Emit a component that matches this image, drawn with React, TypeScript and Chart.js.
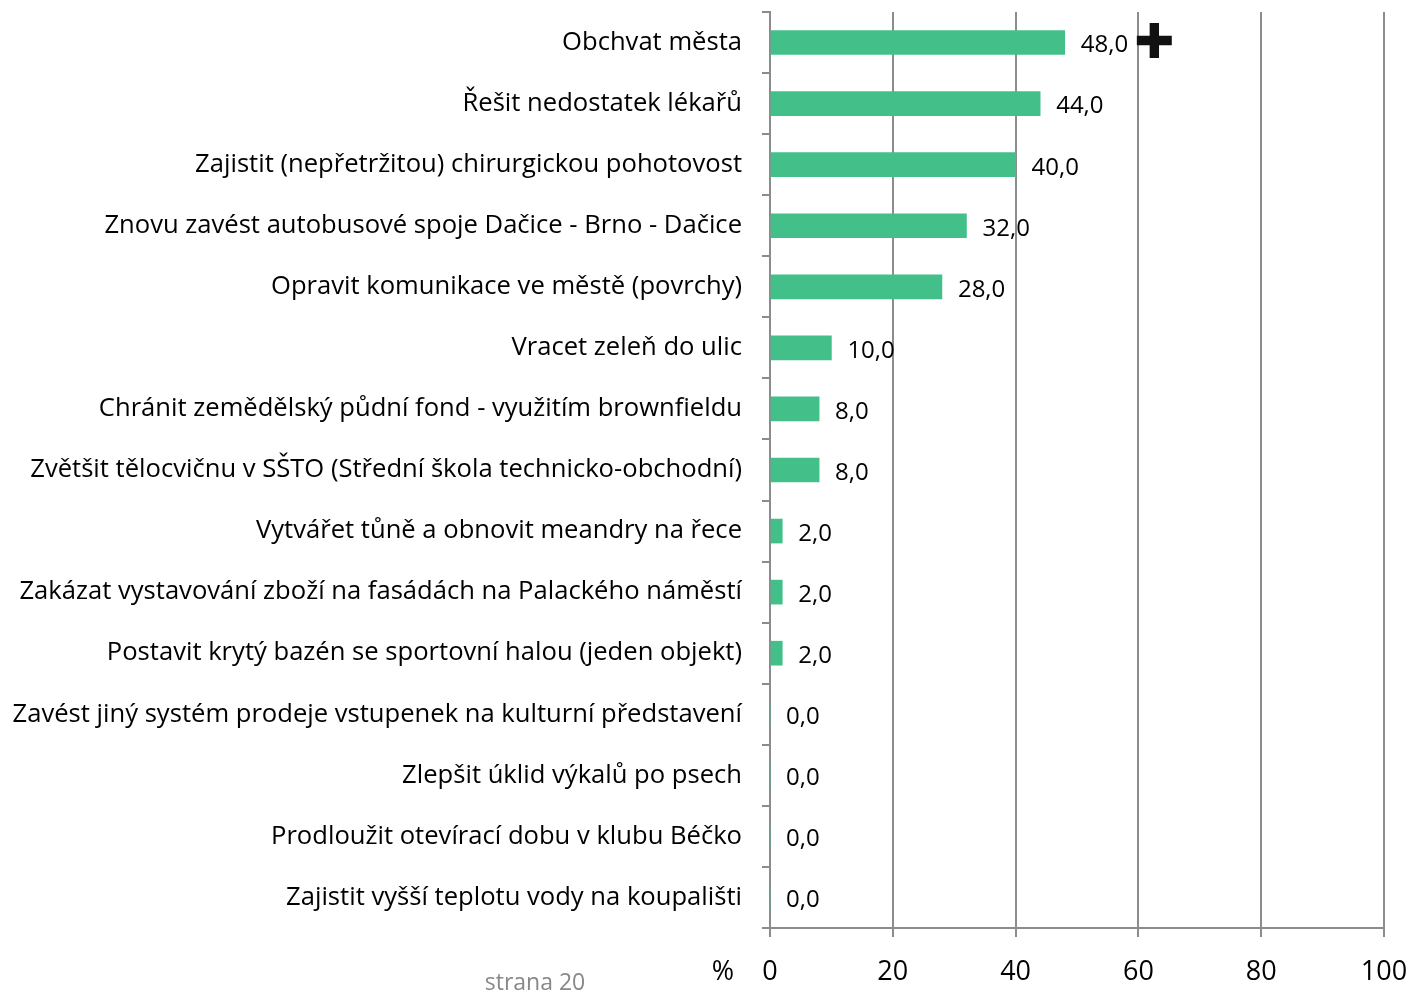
import React, { useEffect, useRef } from "react";
import { Chart, registerables } from "chart.js";

Chart.register(...registerables);

const categories: string[] = [
  "Obchvat města",
  "Řešit nedostatek lékařů",
  "Zajistit (nepřetržitou) chirurgickou pohotovost",
  "Znovu zavést autobusové spoje Dačice - Brno - Dačice",
  "Opravit komunikace ve městě (povrchy)",
  "Vracet zeleň do ulic",
  "Chránit zemědělský půdní fond - využitím brownfieldu",
  "Zvětšit tělocvičnu v SŠTO (Střední škola technicko-obchodní)",
  "Vytvářet tůně a obnovit meandry na řece",
  "Zakázat vystavování zboží na fasádách na Palackého náměstí",
  "Postavit krytý bazén se sportovní halou (jeden objekt)",
  "Zavést jiný systém prodeje vstupenek na kulturní představení",
  "Zlepšit úklid výkalů po psech",
  "Prodloužit otevírací dobu v klubu Béčko",
  "Zajistit vyšší teplotu vody na koupališti",
];

const values: number[] = [48, 44, 40, 32, 28, 10, 8, 8, 2, 2, 2, 0, 0, 0, 0];

const xTicks: number[] = [0, 20, 40, 60, 80, 100];

const axisUnit = "%";
const footerText = "strana 20";

const FONT = "'Open Sans', sans-serif";

const labelsPlugin = {
  id: "extraText",
  afterDatasetsDraw(chart: any) {
    const ctx = chart.ctx;
    const meta = chart.getDatasetMeta(0);
    ctx.save();
    ctx.font = `24px ${FONT}`;
    ctx.fillStyle = "#000";
    ctx.textAlign = "left";
    ctx.textBaseline = "middle";
    meta.data.forEach((bar: any, i: number) => {
      const txt = values[i].toFixed(1).replace(".", ",");
      ctx.fillText(txt, bar.x + 16, bar.y + 3);
      if (i === 0) {
        const w = ctx.measureText(txt).width;
        ctx.save();
        ctx.font = `48px 'DejaVu Sans'`;
        ctx.fillStyle = "#111";
        ctx.textAlign = "center";
        ctx.fillText("✚", bar.x + 16 + w + 26, bar.y + 3);
        ctx.restore();
      }
    });
    const xs = chart.scales.x;
    ctx.font = `27px ${FONT}`;
    ctx.textAlign = "center";
    ctx.fillStyle = "#000";
    ctx.fillText(axisUnit, xs.left - 47, 972);
    ctx.font = `23px ${FONT}`;
    ctx.fillStyle = "#888";
    ctx.fillText(footerText, 535, 983);
    ctx.restore();
  },
};

export default function App() {
  const ref = useRef<HTMLCanvasElement | null>(null);
  useEffect(() => {
    if (!ref.current) return;
    const chart = new Chart(ref.current, {
      type: "bar",
      data: {
        labels: categories,
        datasets: [
          {
            data: values,
            backgroundColor: "#43c08a",
            borderWidth: 0,
            barThickness: 24,
          },
        ],
      },
      options: {
        indexAxis: "y",
        animation: false,
        responsive: false,
        maintainAspectRatio: false,
        layout: { padding: { top: 12, right: 26, left: 0, bottom: 0 } },
        plugins: {
          legend: { display: false },
          tooltip: { enabled: false },
        },
        scales: {
          x: {
            min: 0,
            max: 100,
            afterBuildTicks: (s: any) => {
              s.ticks = xTicks.map((v) => ({ value: v }));
            },
            afterFit: (s: any) => {
              s.height = 993 - 928;
              s.paddingLeft = 0;
              s.paddingRight = 0;
            },
            grid: {
              color: "#8c8c8c",
              lineWidth: 2,
              tickLength: 9,
            },
            border: { color: "#8c8c8c", width: 2 },
            ticks: {
              color: "#000",
              font: { family: FONT, size: 27 },
              padding: 19,
            },
          },
          y: {
            afterFit: (s: any) => {
              s.width = 770;
              s.paddingTop = 0;
              s.paddingBottom = 0;
            },
            grid: {
              color: "#8c8c8c",
              lineWidth: 2,
              drawOnChartArea: false,
              drawTicks: true,
              tickLength: 8,
              offset: true,
            },
            border: { color: "#8c8c8c", width: 2 },
            ticks: {
              color: "#000",
              font: { family: FONT, size: 25.6 },
              padding: 20,
              autoSkip: false,
            },
          },
        },
      },
      plugins: [labelsPlugin],
    });
    return () => chart.destroy();
  }, []);
  return (
    <div style={{ position: "absolute", left: 0, top: 0, width: 1410, height: 993, background: "#fff" }}>
      <canvas ref={ref} width={1410} height={993} style={{ width: 1410, height: 993, display: "block" }} />
    </div>
  );
}
